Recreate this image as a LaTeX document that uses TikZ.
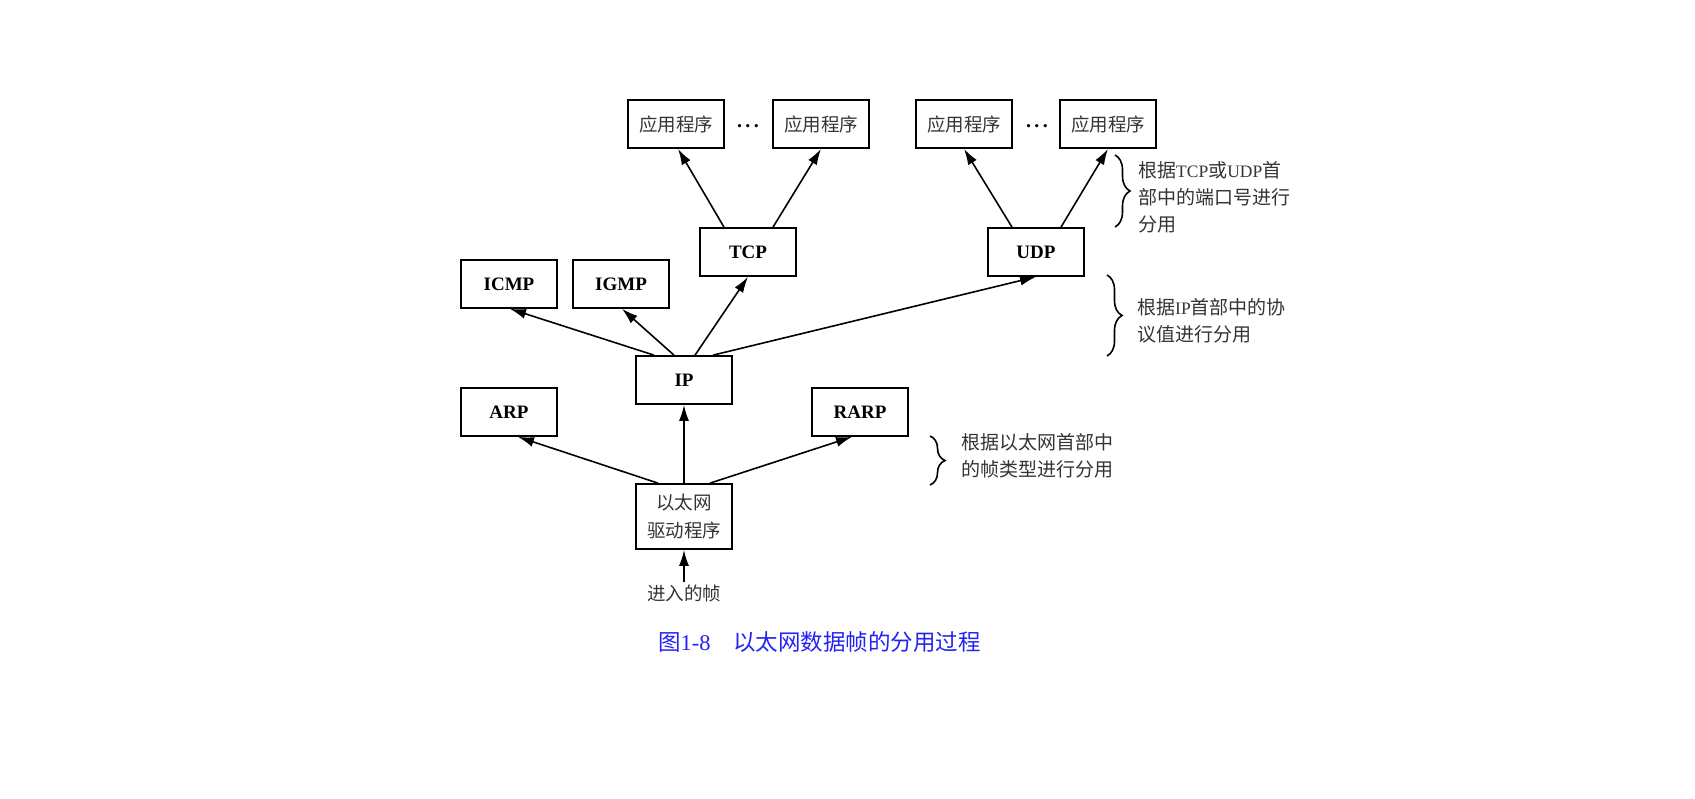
\documentclass[tikz,border=0pt]{standalone}
\usepackage{fontspec}
\setmainfont{Liberation Serif}
\newfontfamily\cjk{Noto Sans CJK SC}
\usetikzlibrary{arrows.meta,decorations.pathreplacing}
\definecolor{textgray}{RGB}{55,50,55}
\definecolor{capblue}{RGB}{35,35,245}
% Latin words inside the Chinese side notes
\newcommand\latn[1]{{\rmfamily\fontsize{17.5}{27}\selectfont #1}}

\begin{document}
\begin{tikzpicture}[x=1pt,y=-1pt,
  box/.style={draw,line width=1.7pt,minimum width=96pt,minimum height=48pt,
    inner sep=0pt,font=\fontsize{19}{22}\selectfont\bfseries},
  appbox/.style={box,font=\cjk\fontsize{18.5}{28}\selectfont,text=textgray},
  plaintext/.style={inner sep=2pt,font=\cjk\fontsize{18.5}{24}\selectfont,text=textgray},
  ellipsis/.style={inner sep=0pt,anchor=base,font=\fontsize{20}{20}\selectfont\bfseries},
  flow/.style={line width=1.6pt,-{Latex[length=16pt,width=10pt]}},
  note/.style={align=left,inner sep=0pt,anchor=west,
    font=\cjk\fontsize{19}{27}\selectfont,text=textgray},
  bracket/.style={decorate,decoration={brace,amplitude=15pt},line width=1.6pt},
]
\fill[white] (0,0) rectangle (1695,799);
\useasboundingbox (0,0) rectangle (1695,799);

% application layer
\node[appbox] (app1) at (676,124) {应用程序};
\node[appbox] (app2) at (821,124) {应用程序};
\node[appbox] (app3) at (964,124) {应用程序};
\node[appbox] (app4) at (1108,124) {应用程序};
\node[ellipsis] (dotsA) at (748,128) {.\,.\,.};
\node[ellipsis] (dotsB) at (1037,128) {.\,.\,.};

% transport layer
\node[box] (tcp) at (748,252) {TCP};
\node[box] (udp) at (1036,252) {UDP};

% network layer
\node[box] (icmp) at (509,284) {ICMP};
\node[box] (igmp) at (621,284) {IGMP};
\node[box] (ip) at (684,380) {IP};
\node[box] (arp) at (509,412) {ARP};
\node[box] (rarp) at (860,412) {RARP};

% link layer
\node[appbox,minimum height=65pt,align=center] (eth) at (684,516.5) {以太网\\驱动程序};
\node[plaintext] (in) at (684,593) {进入的帧};

% demultiplexing arrows
\draw[flow] (in.north) -- (eth.south);
\draw[flow] ([xshift=-26pt]eth.north) -- ([xshift=9pt]arp.south);
\draw[flow] (eth.north) -- (ip.south);
\draw[flow] ([xshift=26pt]eth.north) -- ([xshift=-8pt]rarp.south);

\draw[flow] ([xshift=-30pt]ip.north) -- ([xshift=1pt]icmp.south);
\draw[flow] ([xshift=-10pt]ip.north) -- ([xshift=1pt]igmp.south);
\draw[flow] ([xshift=11pt]ip.north) -- (tcp.south);
\draw[flow] ([xshift=29pt]ip.north) -- (udp.south);

\draw[flow] ([xshift=-24pt]tcp.north) -- ([xshift=2pt]app1.south);
\draw[flow] ([xshift=25pt]tcp.north) -- (app2.south);
\draw[flow] ([xshift=-24pt]udp.north) -- (app3.south);
\draw[flow] ([xshift=25pt]udp.north) -- (app4.south);

% side notes with braces
\draw[bracket] (1115,155) -- (1115,227);
\node[note] (note1) at (1138,197)
  {根据\latn{TCP}或\latn{UDP}首\\部中的端口号进行\\分用};
\draw[bracket] (1107,275) -- (1107,356);
\node[note] (note2) at (1137,320.5) {根据\latn{IP}首部中的协\\议值进行分用};
\draw[bracket] (930,436) -- (930,485);
\node[note] (note3) at (961,456) {根据以太网首部中\\的帧类型进行分用};

% caption
\node[inner sep=0pt,anchor=west,text=capblue,font=\fontsize{22.5}{26}\selectfont] (caption)
  at (658,642) {{\cjk 图}1-8\quad{\cjk 以太网数据帧的分用过程}};
\end{tikzpicture}
\end{document}
